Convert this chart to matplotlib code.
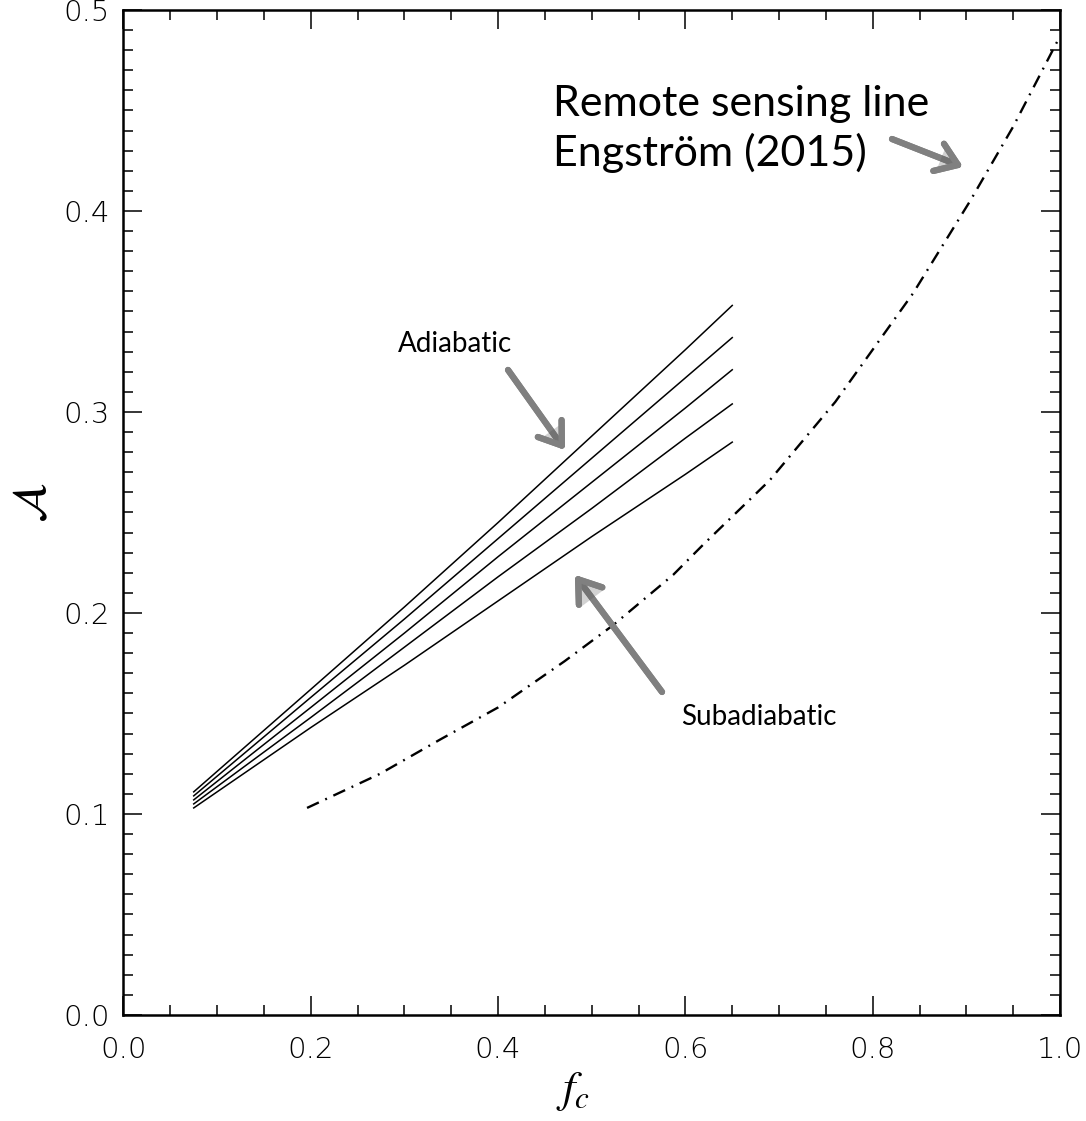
import matplotlib
matplotlib.use("Agg")
import matplotlib.pyplot as plt
import matplotlib.patheffects as pe
from matplotlib.ticker import MultipleLocator

plt.rcParams["mathtext.fontset"] = "stix"

# liquid water path scaling for different lapse-rate assumptions
fc = [0.075, 0.2, 0.3, 0.4, 0.5, 0.6, 0.65]
adiabatic_1 = [0.111, 0.162, 0.203, 0.245, 0.288, 0.331, 0.353]
adiabatic_2 = [0.109, 0.158, 0.197, 0.237, 0.277, 0.317, 0.337]
adiabatic_3 = [0.107, 0.153, 0.190, 0.228, 0.265, 0.302, 0.321]
adiabatic_4 = [0.105, 0.148, 0.183, 0.218, 0.252, 0.287, 0.304]
adiabatic_5 = [0.103, 0.143, 0.174, 0.206, 0.238, 0.269, 0.285]

# remote sensing relation (Engstrom 2015)
fc_rs = [0.196, 0.274, 0.338, 0.40, 0.471, 0.523, 0.587, 0.619, 0.69,
         0.76, 0.843, 0.904, 0.95, 1.0]
a_rs = [0.103, 0.120, 0.137, 0.153, 0.176, 0.194, 0.219, 0.234, 0.266,
        0.305, 0.359, 0.405, 0.442, 0.487]

fig = plt.figure(figsize=(10.86, 11.21), dpi=100)
ax = fig.add_axes([0.1137, 0.0946, 0.8624, 0.8965])

for ys in [adiabatic_1, adiabatic_2, adiabatic_3, adiabatic_4, adiabatic_5]:
    ax.plot(fc, ys, color="black", lw=1.1)

ax.plot(fc_rs, a_rs, color="black", lw=1.7, linestyle=(0, (5.5, 3, 0.8, 3)))

ax.set_xlim(0, 1)
ax.set_ylim(0, 0.5)
ax.xaxis.set_major_locator(MultipleLocator(0.2))
ax.xaxis.set_minor_locator(MultipleLocator(0.05))
ax.yaxis.set_major_locator(MultipleLocator(0.1))
ax.yaxis.set_minor_locator(MultipleLocator(0.01))
ax.xaxis.set_major_formatter(lambda v, p: f"{v:.1f}")
ax.yaxis.set_major_formatter(lambda v, p: f"{v:.1f}")

ax.tick_params(which="both", direction="in", top=True, right=True, width=1.1)
ax.tick_params(which="major", length=14)
ax.tick_params(which="minor", length=7)
ax.tick_params(axis="x", which="major", pad=15)
ax.tick_params(axis="y", which="major", pad=10)
for lab in ax.get_xticklabels() + ax.get_yticklabels():
    lab.set_fontfamily("DejaVu Sans")
    lab.set_fontweight("light")
    lab.set_fontsize(21)
for sp in ax.spines.values():
    sp.set_linewidth(1.8)

ax.set_xlabel(r"$f_c$", fontsize=32)
ax.xaxis.set_label_coords(0.48, -0.055)
ax.set_ylabel(r"$\mathcal{A}$", fontsize=34)
ax.yaxis.set_label_coords(-0.072, 0.51)

shadow = [pe.withSimplePatchShadow(offset=(1.5, -1.5), alpha=0.25), pe.Normal()]
arrow = dict(arrowstyle="->, head_length=0.5, head_width=0.35", color="#808080",
             lw=4.5, mutation_scale=30, shrinkA=0, shrinkB=0,
             capstyle="round", joinstyle="round", path_effects=shadow)

ax.text(0.354, 0.334, "Adiabatic", fontsize=20, family="Lato",
        ha="center", va="center")
ax.annotate("", xy=(0.4714, 0.2811), xytext=(0.4106, 0.3209), arrowprops=arrow)

ax.text(0.595, 0.148, "Subadiabatic", fontsize=20, family="Lato",
        ha="left", va="center")
ax.annotate("", xy=(0.482, 0.2189), xytext=(0.575, 0.1607), arrowprops=arrow)

ax.text(0.459, 0.441, "Remote sensing line\nEngström (2015)", fontsize=31,
        family="Lato", ha="left", va="center", linespacing=1.3)
ax.annotate("", xy=(0.8965, 0.4219), xytext=(0.8206, 0.4358), arrowprops=arrow)

fig.savefig("out.png", dpi=100)
